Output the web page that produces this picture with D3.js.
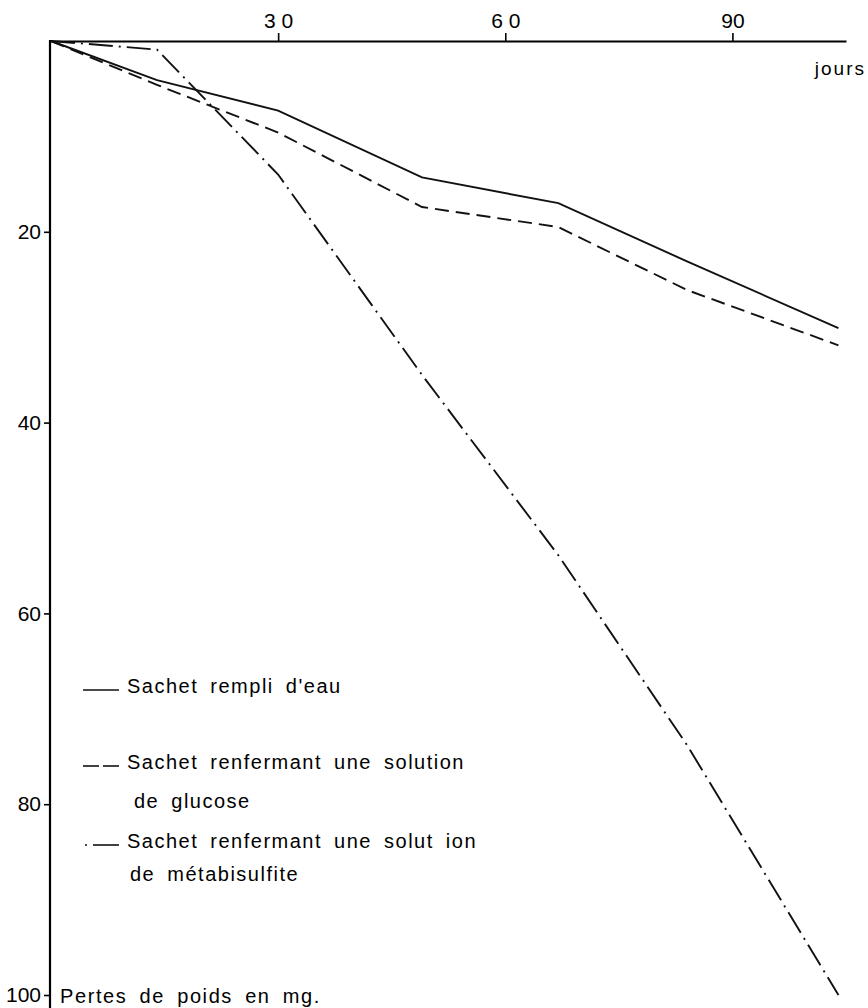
<!DOCTYPE html>
<html>
<head>
<meta charset="utf-8">
<script src="https://cdn.jsdelivr.net/npm/d3@7"></script>
<style>
  body { margin: 0; background: #fff; }
  svg { display: block; font-family: "Liberation Sans", Arial, sans-serif; }
</style>
</head>
<body>
<div id="chart"></div>
<script>
// Data (jours / pertes de poids en mg)
const days = [0, 14, 30, 49, 67, 84, 104];
const eau = [0, 4.1, 7.3, 14.3, 17.0, 23.1, 30.1];
const glucose = [0, 4.6, 9.6, 17.4, 19.5, 26.1, 31.9];
const metabisulfite = [0, 0.9, 14.0, 35.0, 53.9, 73.8, 100.0];

const xTicks = [30, 60, 90];
const xTickLabels = ['3 0', '6 0', '90'];
const yTicks = [20, 40, 60, 80, 100];

const legendLabels = [
  ['Sachet rempli d\'eau'],
  ['Sachet renfermant une solution', 'de glucose'],
  ['Sachet renfermant une solut ion', 'de métabisulfite']
];

// Constants
const WIDTH = 868;
const HEIGHT = 1008;

const x = d3.scaleLinear().domain([0, 105]).range([51, 846]);
const y = d3.scaleLinear().domain([0, 100]).range([41, 995]);

const svg = d3.select('#chart')
  .append('svg')
  .attr('width', WIDTH)
  .attr('height', HEIGHT);

// Axes
const xAxis = svg.append('g')
  .attr('transform', `translate(0, ${y(0)})`)
  .call(d3.axisTop(x)
    .tickValues(xTicks)
    .tickFormat((d, i) => xTickLabels[i])
    .tickSize(8)
    .tickSizeOuter(0)
    .tickPadding(5));

xAxis.select('.domain').attr('stroke-width', 2.2);
xAxis.selectAll('.tick line').attr('stroke-width', 1.6);
xAxis.selectAll('.tick text')
  .attr('font-size', 21)
  .attr('font-family', '"Liberation Sans", Arial, sans-serif');

const yAxis = svg.append('g')
  .attr('transform', `translate(${x(0) - 1}, 0)`)
  .call(d3.axisLeft(y)
    .tickValues(yTicks)
    .tickSize(6)
    .tickSizeOuter(0)
    .tickPadding(3));

yAxis.select('.domain').remove();
yAxis.append('line')
  .attr('x1', 0).attr('x2', 0)
  .attr('y1', y(0) - 1).attr('y2', HEIGHT)
  .attr('stroke', '#000')
  .attr('stroke-width', 2.2);
yAxis.selectAll('.tick line').attr('stroke-width', 1.6);
yAxis.selectAll('.tick text')
  .attr('font-size', 21)
  .attr('font-family', '"Liberation Sans", Arial, sans-serif');

svg.append('text')
  .attr('x', 866)
  .attr('y', 75)
  .attr('text-anchor', 'end')
  .attr('font-size', 19)
  .attr('letter-spacing', 2)
  .text('jours');

svg.append('text')
  .attr('x', 60)
  .attr('y', 1003)
  .attr('font-size', 20)
  .attr('letter-spacing', 1.6)
  .attr('word-spacing', 5)
  .text('Pertes de poids en mg.');

// Lines
const series = [
  { values: eau, dash: null },
  { values: glucose, dash: '14,7' },
  { values: metabisulfite, dash: '24,6,2,6' }
];

const line = d3.line()
  .x((d, i) => x(days[i]))
  .y(d => y(d));

svg.selectAll('.serie')
  .data(series)
  .join('path')
  .attr('class', 'serie')
  .attr('fill', 'none')
  .attr('stroke', '#111')
  .attr('stroke-width', 1.9)
  .attr('stroke-dasharray', d => d.dash)
  .attr('d', d => line(d.values));

// Legend
const legendY = [690, 766, 845];
const legend = svg.append('g');

legendLabels.forEach((lines, i) => {
  const ly = legendY[i];
  if (i === 0) {
    legend.append('line').attr('x1', 83).attr('x2', 119).attr('y1', ly).attr('y2', ly);
  } else if (i === 1) {
    legend.append('line').attr('x1', 83).attr('x2', 99).attr('y1', ly).attr('y2', ly);
    legend.append('line').attr('x1', 103).attr('x2', 119).attr('y1', ly).attr('y2', ly);
  } else {
    legend.append('line').attr('x1', 85).attr('x2', 87).attr('y1', ly).attr('y2', ly);
    legend.append('line').attr('x1', 93).attr('x2', 119).attr('y1', ly).attr('y2', ly);
  }
  lines.forEach((t, j) => {
    legend.append('text')
      .attr('x', j === 0 ? 127 : (i === 1 ? 134 : 130))
      .attr('y', ly + 3 + j * (i === 1 ? 39 : 33))
      .attr('font-size', 20)
      .attr('letter-spacing', 1.5)
      .attr('word-spacing', 5)
      .text(t);
  });
});

legend.selectAll('line')
  .attr('stroke', '#111')
  .attr('stroke-width', 1.6);
</script>
</body>
</html>
